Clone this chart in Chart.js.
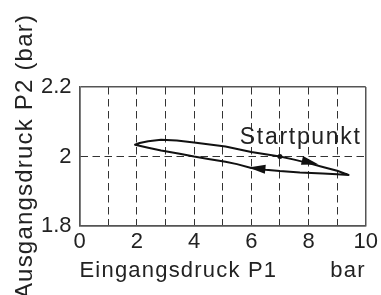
<!DOCTYPE html>
<html>
<head>
<meta charset="utf-8">
<script src="https://cdn.jsdelivr.net/npm/chart.js@4.4.1/dist/chart.umd.min.js"></script>
<style>
  html, body { margin: 0; padding: 0; background: #fff; }
  #wrap { width: 381px; height: 295px; position: relative; }
</style>
</head>
<body>
<div id="wrap"><canvas id="c"></canvas></div>
<script>
// ---- data ----
const loopP1 = [7.0, 7.5, 8.0, 8.5, 9.0, 9.4, 9.0, 8.5, 7.7, 7.0, 6.5, 6.0, 5.5, 5.1, 4.5, 4.0, 3.5, 2.85, 2.4, 1.94, 2.1, 2.4, 2.85, 3.4, 4.0, 5.1, 6.0, 7.0];
const loopP2 = [2.000, 1.991, 1.981, 1.970, 1.959, 1.947, 1.949, 1.951, 1.954, 1.958, 1.962, 1.967, 1.978, 1.985, 1.993, 2.000, 2.008, 2.017, 2.025, 2.034, 2.039, 2.044, 2.048, 2.046, 2.040, 2.029, 2.013, 2.000];
const startP1 = [7.0];
const startP2 = [2.0];
const startLabel = 'Startpunkt';
const startLabelP1 = 5.6;
const startLabelP2 = 2.037;
// arrows along the loop (tail -> tip), in data units
const arrowTailP1 = [7.75, 6.5];
const arrowTailP2 = [1.989, 1.963];
const arrowTipP1  = [8.35, 5.9];
const arrowTipP2  = [1.977, 1.968];
const xTitle = 'Eingangsdruck P1';
const xUnit = 'bar';
const yTitle = 'Ausgangsdruck P2 (bar)';
const xMin = 0, xMax = 10, xStep = 1;
const yMin = 1.8, yMax = 2.2, yStep = 0.2;

const FONT = '"Liberation Sans", Arial, Helvetica, sans-serif';
const TEXT = '#222';

const loopData = loopP1.map((x, i) => ({x, y: loopP2[i]}));
const startData = startP1.map((x, i) => ({x, y: startP2[i]}));

const isEdgeX = v => Math.abs(v - xMin) < 1e-6 || Math.abs(v - xMax) < 1e-6;
const isEdgeY = v => Math.abs(v - yMin) < 1e-6 || Math.abs(v - yMax) < 1e-6;

const spacingPlugin = {
  id: 'spacing',
  beforeDraw(chart) { chart.ctx.letterSpacing = '1.2px'; },
  beforeDatasetsDraw(chart) { chart.ctx.letterSpacing = '0px'; }
};

const annotPlugin = {
  id: 'annot',
  afterDraw(chart) {
    const ctx = chart.ctx;
    const xs = chart.scales.x, ys = chart.scales.y;
    ctx.save();
    // arrows
    ctx.fillStyle = '#111';
    for (let i = 0; i < arrowTipP1.length; i++) {
      const tx = xs.getPixelForValue(arrowTipP1[i]), ty = ys.getPixelForValue(arrowTipP2[i]);
      const bx = xs.getPixelForValue(arrowTailP1[i]), by = ys.getPixelForValue(arrowTailP2[i]);
      const ang = Math.atan2(ty - by, tx - bx);
      const len = 17, hw = 4.5;
      const cx = tx - Math.cos(ang) * len, cy = ty - Math.sin(ang) * len;
      const nx = -Math.sin(ang), ny = Math.cos(ang);
      ctx.beginPath();
      ctx.moveTo(tx, ty);
      ctx.lineTo(cx + nx * hw, cy + ny * hw);
      ctx.lineTo(cx - nx * hw, cy - ny * hw);
      ctx.closePath();
      ctx.fill();
    }
    // Startpunkt label
    ctx.fillStyle = TEXT;
    ctx.font = '23px ' + FONT;
    ctx.letterSpacing = '1.7px';
    ctx.textAlign = 'left';
    ctx.textBaseline = 'alphabetic';
    ctx.fillText(startLabel, xs.getPixelForValue(startLabelP1), ys.getPixelForValue(startLabelP2));
    // unit label at right of x title
    ctx.font = '22px ' + FONT;
    ctx.letterSpacing = '1.2px';
    ctx.textAlign = 'right';
    ctx.textBaseline = 'middle';
    const t = xs.options.title;
    const lh = 22 * 1.2;
    ctx.fillText(xUnit, chart.chartArea.right, xs.bottom - lh / 2 - t.padding.bottom);
    ctx.restore();
  }
};

new Chart(document.getElementById('c'), {
  type: 'scatter',
  data: {
    datasets: [
      { data: loopData, showLine: true, borderColor: '#111', borderWidth: 2, pointRadius: 0,
        fill: false, tension: 0, borderJoinStyle: 'round' },
      { data: startData, pointRadius: 2.5, backgroundColor: '#111', borderWidth: 0, showLine: false }
    ]
  },
  options: {
    responsive: true,
    maintainAspectRatio: false,
    animation: false,
    devicePixelRatio: 1,
    layout: { autoPadding: false, padding: { left: 0, right: 7, top: 87, bottom: 0 } },
    plugins: { legend: { display: false }, tooltip: { enabled: false } },
    scales: {
      x: {
        type: 'linear', min: xMin, max: xMax,
        afterFit: s => { s.height = 69; },
        ticks: {
          stepSize: xStep, autoSkip: false, maxRotation: 0, padding: 3, z: 1,
          color: TEXT, font: { size: 22, family: FONT },
          callback: v => (Math.round(v) % 2 === 0 ? String(Math.round(v)) : '')
        },
        grid: {
          drawTicks: false,
          color: c => (c.tick && isEdgeX(c.tick.value)) ? '#555' : '#333',
          lineWidth: c => (c.tick && isEdgeX(c.tick.value)) ? 1.5 : 1
        },
        border: { display: true, color: '#555', width: 1.5,
          dash: c => (c.tick && isEdgeX(c.tick.value)) ? [] : [7.5, 4.5] },
        title: { display: true, text: xTitle, align: 'start', color: TEXT,
          font: { size: 22, family: FONT }, padding: { top: 0, bottom: 10.4 } }
      },
      y: {
        type: 'linear', min: yMin, max: yMax,
        afterFit: s => { s.width = 79.5; },
        ticks: {
          stepSize: yStep, padding: 8, z: 1, color: TEXT, font: { size: 22, family: FONT },
          callback: v => (Math.abs(v - 2) < 1e-6 ? '2' : v.toFixed(1))
        },
        grid: {
          drawTicks: false,
          color: c => (c.tick && isEdgeY(c.tick.value)) ? '#555' : '#333',
          lineWidth: c => (c.tick && isEdgeY(c.tick.value)) ? 1.5 : 1
        },
        border: { display: true, color: '#555', width: 1.5,
          dash: c => (c.tick && isEdgeY(c.tick.value)) ? [] : [7.5, 4.5] },
        title: { display: true, text: yTitle, color: TEXT,
          font: { size: 24, family: FONT }, padding: { top: 11.2, bottom: 0 } }
      }
    }
  },
  plugins: [spacingPlugin, annotPlugin]
});
</script>
</body>
</html>
